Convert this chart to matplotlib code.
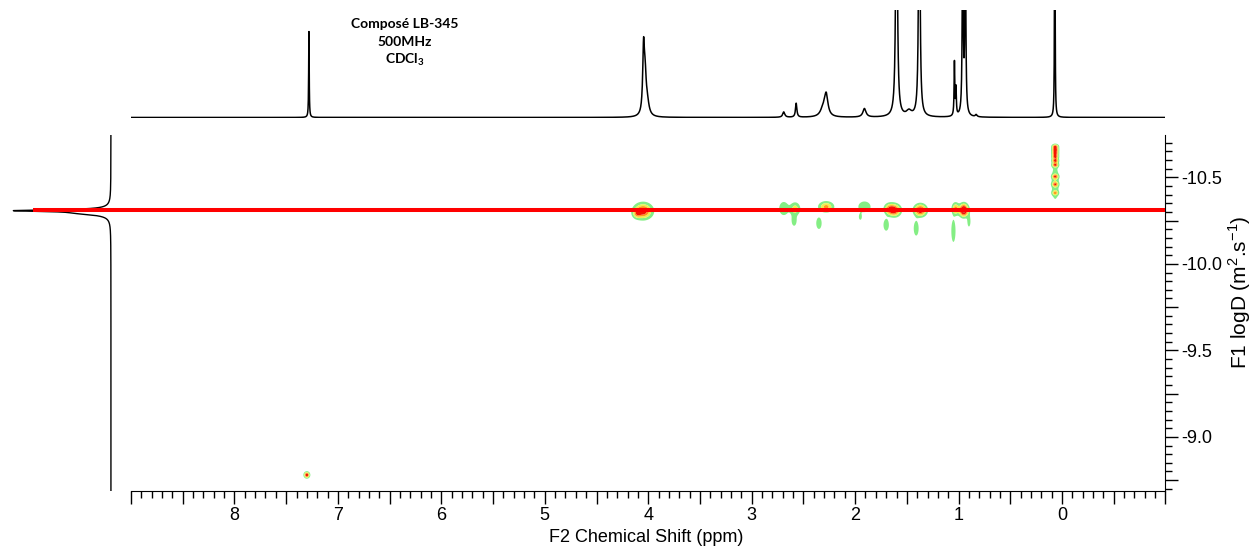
import numpy as np
import matplotlib
matplotlib.use('Agg')
import matplotlib.pyplot as plt
from matplotlib.ticker import MultipleLocator, FuncFormatter
from matplotlib.colors import ListedColormap, BoundaryNorm
import matplotlib.transforms as mtransforms

plt.rcParams['font.family'] = ['Liberation Sans', 'DejaVu Sans']
plt.rcParams['mathtext.fontset'] = 'custom'
plt.rcParams['mathtext.rm'] = 'Liberation Sans'
plt.rcParams['mathtext.bf'] = 'Lato:bold'

# 1H spectrum on top (F2 projection): shift (ppm), height, half width (ppm)
h1_ppm = [7.28, 4.045, 4.03, 4.01, 2.69, 2.57, 2.31, 2.28, 1.91,
          1.60, 1.48, 1.38, 1.04, 1.025, 0.96, 0.935, 0.83, 0.07]
h1_height = [0.80, 0.60, 0.30, 0.12, 0.05, 0.13, 0.07, 0.20, 0.08,
             3.0, 0.05, 3.0, 0.50, 0.25, 2.0, 2.0, 0.02, 5.0]
h1_width = [0.003, 0.010, 0.012, 0.02, 0.012, 0.008, 0.03, 0.02, 0.018,
            0.008, 0.03, 0.007, 0.004, 0.004, 0.005, 0.005, 0.01, 0.002]

# F1 projection (diffusion axis): logD, height, half width
f1_logd = [-10.31, -10.295]
f1_height = [0.85, 0.25]
f1_width = [0.006, 0.012]

# DOSY cross peaks: ppm, logD, amplitude, gaussian widths
cp_ppm = [4.05, 4.11,
          2.69, 2.58, 2.59, 2.28, 2.35, 1.91, 1.95,
          1.62, 1.67, 1.70, 1.37, 1.41,
          0.95, 1.03, 1.05, 0.90,
          0.066, 0.066, 0.066, 0.066, 0.066, 0.066, 0.066, 0.066, 0.066, 0.066,
          7.30]
cp_logd = [-10.305, -10.29,
           -10.32, -10.318, -10.25, -10.33, -10.235, -10.33, -10.27,
           -10.31, -10.318, -10.225, -10.31, -10.205,
           -10.31, -10.318, -10.19, -10.245,
           -10.47, -10.678, -10.659, -10.64, -10.62, -10.597, -10.572, -10.505, -10.46, -10.41,
           -8.78]
cp_amp = [0.68, 0.30,
          0.22, 0.34, 0.20, 0.46, 0.20, 0.20, 0.15,
          0.68, 0.42, 0.20, 0.72, 0.20,
          0.95, 0.48, 0.22, 0.17,
          0.22, 0.62, 0.62, 0.58, 0.58, 0.58, 0.55, 0.45, 0.40, 0.35,
          0.72]
cp_wppm = [0.055, 0.025,
           0.035, 0.032, 0.02, 0.045, 0.022, 0.05, 0.014,
           0.038, 0.032, 0.022, 0.038, 0.02,
           0.028, 0.022, 0.016, 0.014,
           0.026, 0.02, 0.02, 0.02, 0.02, 0.02, 0.02, 0.02, 0.02, 0.02,
           0.017]
cp_wlogd = [0.028, 0.016,
            0.03, 0.024, 0.025, 0.019, 0.028, 0.026, 0.016,
            0.022, 0.02, 0.028, 0.022, 0.035,
            0.023, 0.022, 0.05, 0.028,
            0.075, 0.009, 0.009, 0.009, 0.009, 0.009, 0.009, 0.009, 0.009, 0.009,
            0.011]

red_logd = -10.31
contour_levels = [0.1, 0.25, 0.4, 0.55, 0.8, 10]
contour_colors = ['#84ee84', '#eef050', '#ff9a1a', '#f41400', '#a80000']

W, H = 1252, 546
fig = plt.figure(figsize=(W / 100, H / 100), dpi=100)

def fx(px):
    return px / W

def fy(py):
    return 1 - py / H

x0, x1 = 131, 1165.5
ax = fig.add_axes([fx(x0), fy(490.5), fx(x1 - x0), (490.5 - 135) / H])
ax_top = fig.add_axes([fx(x0), fy(118), fx(x1 - x0), (118 - 10) / H])
ax_left = fig.add_axes([fx(8), fy(490.5), fx(113 - 8), (490.5 - 135) / H])
ax.set_zorder(3)

# 2D map
ppm = np.linspace(-1.0, 9.0, 4000)
logd = np.linspace(-10.76, -8.68, 1200)
amp = np.array(cp_amp)
gx = np.exp(-0.5 * ((ppm[None, :] - np.array(cp_ppm)[:, None]) / np.array(cp_wppm)[:, None]) ** 2)
gy = np.exp(-0.5 * ((logd[None, :] - np.array(cp_logd)[:, None]) / np.array(cp_wlogd)[:, None]) ** 2)
Z = gy.T @ (amp[:, None] * gx)
cmap = ListedColormap(contour_colors)
norm = BoundaryNorm(contour_levels, cmap.N)
ax.contourf(ppm, logd, Z, levels=contour_levels, cmap=cmap, norm=norm, antialiased=True)

ax.set_xlim(9.0, -1.0)
ax.set_ylim(-8.69, -10.745)
for s in ['top', 'left']:
    ax.spines[s].set_visible(False)
ax.yaxis.tick_right()
ax.xaxis.set_major_locator(MultipleLocator(0.5))
ax.xaxis.set_minor_locator(MultipleLocator(0.1))


def xfmt(v, p):
    if abs(v - round(v)) < 1e-6 and 0 <= round(v) <= 8:
        return f'{v:.0f}'
    return ''


ax.xaxis.set_major_formatter(FuncFormatter(xfmt))
ax.yaxis.set_major_locator(MultipleLocator(0.25))
ax.yaxis.set_minor_locator(MultipleLocator(0.05))
ax.yaxis.set_major_formatter(FuncFormatter(lambda v, p: f'{v:.1f}' if abs(v * 2 - round(v * 2)) < 1e-6 else ''))
ax.tick_params(axis='both', which='major', direction='out', length=9, width=1, labelsize=13)
ax.tick_params(axis='both', which='minor', direction='out', length=5, width=1)
ax.tick_params(axis='x', which='major', pad=3)
ax.tick_params(axis='y', which='major', pad=2)

# red trace line across the map and F1 projection
trans = mtransforms.blended_transform_factory(ax.transAxes, ax.transData)
ax.plot([(33 - x0) / (x1 - x0), 1.0], [red_logd, red_logd], color='#ff0000', lw=2.9,
        transform=trans, clip_on=False, solid_capstyle='butt', zorder=5)

# top 1D spectrum
x_fine = np.linspace(-1.0, 9.0, 20000)
spec = np.zeros_like(x_fine)
for p, h, w in zip(h1_ppm, h1_height, h1_width):
    spec += h / (1 + ((x_fine - p) / w) ** 2)
ax_top.plot(x_fine, spec, color='black', lw=1.1)
ax_top.set_xlim(9.0, -1.0)
ax_top.set_ylim(-0.005, 1.0)
ax_top.axis('off')

# left F1 projection
y_fine = np.linspace(-10.76, -8.68, 6000)
proj = np.zeros_like(y_fine)
for l, h, w in zip(f1_logd, f1_height, f1_width):
    proj += h / (1 + ((y_fine - l) / w) ** 2)
ax_left.plot(proj, y_fine, color='black', lw=1.0)
ax_left.set_xlim(1.0, -0.02)
ax_left.set_ylim(-8.70, -10.745)
ax_left.axis('off')

# labels
fig.text(fx(646), fy(537), 'F2 Chemical Shift (ppm)', ha='center', va='center', fontsize=13)
fig.text(fx(1240), fy(292), r'F1 logD (m$^{2}$.s$^{-1}$)', ha='center', va='center',
         rotation=90, fontsize=15)
for txt, yy in [('Composé LB-345', 24), ('500MHz', 42), (r'CDCl$_{\mathbf{3}}$', 60)]:
    fig.text(fx(405), fy(yy), txt, ha='center', va='center', fontsize=10,
             fontweight='bold', family='Lato')

fig.savefig('out.png', dpi=100)
